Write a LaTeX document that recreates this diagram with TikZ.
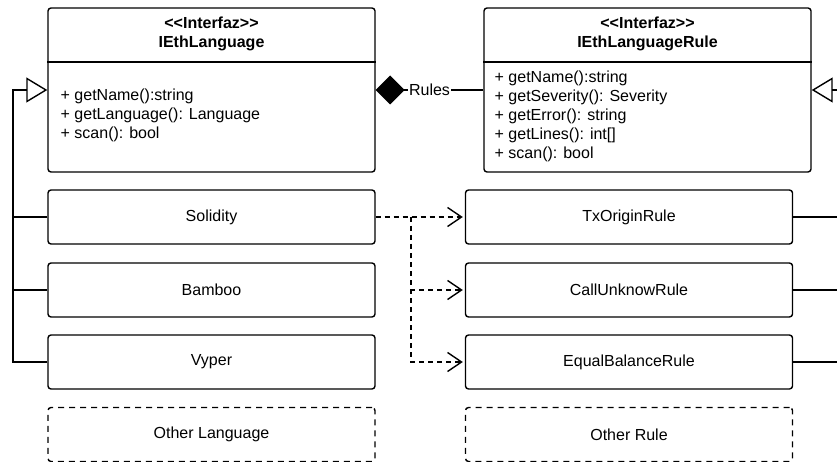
\documentclass[tikz,border=0pt]{standalone}
\usepackage{fontspec}
\setmainfont{Liberation Sans}
\usetikzlibrary{arrows.meta}

\begin{document}
\begin{tikzpicture}[x=1pt, y=-1pt]
   \tikzstyle{every node}=[font=\fontsize{16}{19}\selectfont]
   \tikzstyle{every path}=[line width=1.4pt]
   \tikzstyle{box}=[draw, rounded corners=3pt, minimum width=327pt, minimum height=54pt, inner sep=0pt]
   \tikzstyle{iface}=[box, minimum height=164pt]
   \tikzstyle{other}=[box, dashed, dash pattern=on 6pt off 5pt]
   \tikzstyle{members}=[anchor=west, align=left, inner sep=0pt]
   \tikzstyle{realize}=[dashed, dash pattern=on 5pt off 4pt, -{Straight Barb[length=14pt, width=19pt]}, shorten >=2pt]
   \tikzstyle{extend}=[-{Triangle[open, length=21pt, width=25pt]}]
   \useasboundingbox (0,0) rectangle (837,462);

% interfaces
\node[iface] (lang) at (211.5,90) {};
\node[iface] (rules) at (647.5,90) {};
\draw (lang.west |- 0,62) -- (lang.east |- 0,62);
\draw (rules.west |- 0,62) -- (rules.east |- 0,62);
\node[align=center, font=\fontsize{16}{19}\selectfont\bfseries] (langhead) at (211.5,33.5) {{<}{<}Interfaz{>}{>}\\IEthLanguage};
\node[align=center, font=\fontsize{16}{19}\selectfont\bfseries] (ruleshead) at (647.5,33.5) {{<}{<}Interfaz{>}{>}\\IEthLanguageRule};
\node[members] (langbody) at (60,115) {+ getName():string\\+ getLanguage(): Language\\+ scan(): bool};
\node[members] (rulesbody) at (494,116) {+ getName():string\\+ getSeverity(): Severity\\+ getError(): string\\+ getLines(): int[]\\+ scan(): bool};

% languages
\node[box] (solidity) at (211.5,217) {Solidity};
\node[box] (bamboo) at (211.5,290) {Bamboo};
\node[box] (vyper) at (211.5,362) {Vyper};
\node[other] (otherlang) at (211.5,434.5) {Other Language};

% rules
\node[box] (txorigin) at (629,217) {TxOriginRule};
\node[box] (callunknow) at (629,290) {CallUnknowRule};
\node[box] (equalbalance) at (629,362) {EqualBalanceRule};
\node[other] (otherrule) at (629,434.5) {Other Rule};

% connectors
\coordinate (lbus) at (13,90);
\coordinate (rbus) at (840,90);
\coordinate (split) at (411,217);
\draw[extend] (vyper.west) -| (lbus) -- (lang.west);
\draw (solidity.west) -- (solidity.west -| lbus);
\draw (bamboo.west) -- (bamboo.west -| lbus);
\draw[{Diamond[length=29pt, width=29pt]}-] (lang.east) -- node[fill=white, inner sep=1pt] (rulestext) {Rules} (rules.west);
\draw[realize] (solidity.east) -- (txorigin.west);
\draw[realize] (split) |- (callunknow.west);
\draw[realize] (split) |- (equalbalance.west);
\draw[extend] (rbus) -- (rules.east);
\draw (txorigin.east) -- (txorigin.east -| rbus);
\draw (callunknow.east) -- (callunknow.east -| rbus);
\draw (equalbalance.east) -- (equalbalance.east -| rbus);

\end{tikzpicture}
\end{document}
